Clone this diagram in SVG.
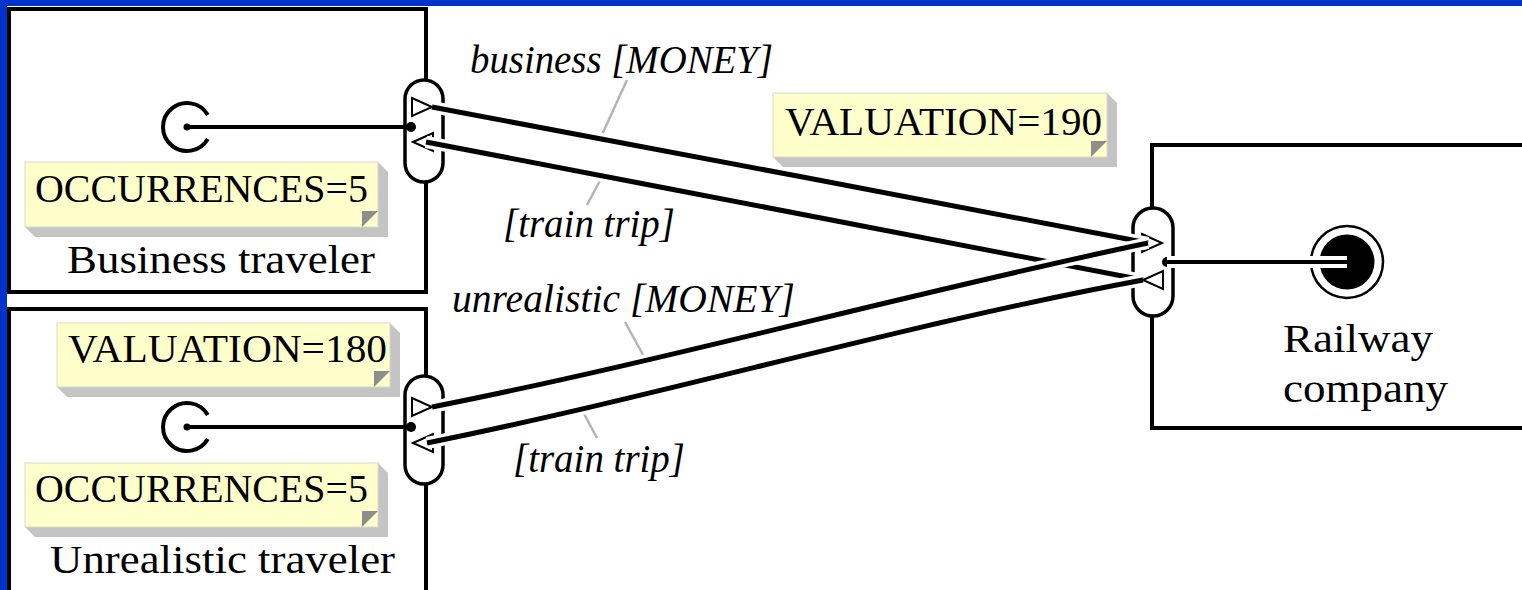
<svg xmlns="http://www.w3.org/2000/svg" width="1522" height="590" viewBox="0 0 1522 590">
  <style>
    .box { fill: #fff; stroke: #000; stroke-width: 4; }
    .cap { fill: #fff; stroke: #000; stroke-width: 3.5; }
    .tri { fill: #fff; stroke: #000; stroke-width: 2; stroke-linejoin: miter; }
    .dot { fill: #000; }
    .halo { fill: none; stroke: #fff; stroke-width: 12; stroke-linecap: butt; }
    .flow { fill: none; stroke: #000; stroke-width: 5; stroke-linecap: butt; }
    .wire { fill: none; stroke: #000; stroke-width: 4; }
    .lead { stroke: #b4b4b4; stroke-width: 2.5; fill: none; }
    .txt { font-family: "Liberation Serif", "Times New Roman", serif; fill: #000; }
    .lbl { font-size: 40px; }
    .it { font-size: 39px; font-style: italic; }
    .shadow { fill: #c4c4c4; }
    .note { fill: #ffffcc; stroke: #d9d9c4; stroke-width: 1; }
    .fold { fill: #8e8e8e; }
  </style>

  <!-- page frame -->
  <rect x="0" y="0" width="1522" height="590" fill="#0033cc"/>
  <rect x="7" y="6" width="1515" height="584" fill="#fff"/>

  <!-- Business traveler -->
  <g id="business-traveler">
    <rect class="box" x="9" y="9" width="417" height="283"/>
    <path class="wire" d="M 207.8 115 A 24 24 0 1 0 207.8 139"/>
    <circle class="dot" cx="187" cy="127" r="3.5"/>
    <g id="note-occ-business">
      <polygon class="shadow" points="378,162 388,172 388,237 35,237 25,227"/>
      <rect class="note" x="25" y="162" width="353" height="65"/>
      <polygon class="fold" points="362,227 378,211 362,211"/>
      <text class="txt lbl" x="35" y="202" textLength="333" lengthAdjust="spacingAndGlyphs">OCCURRENCES=5</text>
    </g>
    <text class="txt lbl" x="67" y="273" textLength="308" lengthAdjust="spacingAndGlyphs">Business traveler</text>
    <g id="port-business">
      <rect class="cap" x="405" y="80" width="38" height="102" rx="19" ry="19"/>
      <polygon class="tri" points="412,98 432,107 412,116"/>
      <polygon class="tri" points="413,142 433,133 433,151"/>
      <circle class="dot" cx="411" cy="127" r="5"/>
    </g>
  </g>

  <!-- Unrealistic traveler -->
  <g id="unrealistic-traveler">
    <rect class="box" x="9" y="309" width="417" height="300"/>
    <g id="note-val-unrealistic">
      <polygon class="shadow" points="390,323 400,333 400,397 67,397 57,387"/>
      <rect class="note" x="57" y="323" width="333" height="64"/>
      <polygon class="fold" points="374,387 390,371 374,371"/>
      <text class="txt lbl" x="68" y="362" textLength="319" lengthAdjust="spacingAndGlyphs">VALUATION=180</text>
    </g>
    <path class="wire" d="M 207.8 415 A 24 24 0 1 0 207.8 439"/>
    <circle class="dot" cx="187" cy="427" r="3.5"/>
    <g id="note-occ-unrealistic">
      <polygon class="shadow" points="378,463 388,473 388,537 35,537 25,527"/>
      <rect class="note" x="25" y="463" width="353" height="64"/>
      <polygon class="fold" points="362,527 378,511 362,511"/>
      <text class="txt lbl" x="35" y="502" textLength="333" lengthAdjust="spacingAndGlyphs">OCCURRENCES=5</text>
    </g>
    <text class="txt lbl" x="50" y="573" textLength="345" lengthAdjust="spacingAndGlyphs">Unrealistic traveler</text>
    <g id="port-unrealistic">
      <rect class="cap" x="405" y="376" width="38" height="108" rx="19" ry="19"/>
      <polygon class="tri" points="412,398 432,407 412,416"/>
      <polygon class="tri" points="413,443 433,434 433,452"/>
      <circle class="dot" cx="411" cy="427" r="5"/>
    </g>
  </g>

  <!-- Railway company -->
  <g id="railway-company">
    <rect class="box" x="1152" y="145" width="400" height="283"/>
    <circle cx="1347" cy="262" r="36" fill="#fff" stroke="#000" stroke-width="2.5"/>
    <circle class="dot" cx="1347" cy="262" r="27.5"/>
    <text class="txt lbl" x="1283" y="352" textLength="150" lengthAdjust="spacingAndGlyphs">Railway</text>
    <text class="txt lbl" x="1283" y="402" textLength="165" lengthAdjust="spacingAndGlyphs">company</text>
    <g id="port-railway">
      <rect class="cap" x="1133" y="208" width="40" height="108" rx="20" ry="20"/>
      <polygon class="tri" points="1142,234 1162,243 1142,252"/>
      <polygon class="tri" points="1143,280 1163,271 1163,289"/>
      <circle class="dot" cx="1167" cy="262" r="5"/>
    </g>
  </g>

  <!-- market segment valuation -->
  <g id="note-val-market">
    <polygon class="shadow" points="1107,93 1117,103 1117,167 783,167 773,157"/>
    <rect class="note" x="773" y="93" width="334" height="64"/>
    <polygon class="fold" points="1091,157 1107,141 1091,141"/>
    <text class="txt lbl" x="785" y="135" textLength="317" lengthAdjust="spacingAndGlyphs">VALUATION=190</text>
  </g>

  <!-- value exchanges and dependency paths -->
  <g id="connectors">
    <!-- label leaders -->
    <line class="lead" x1="627" y1="80" x2="600" y2="139"/>
    <line class="lead" x1="603" y1="175" x2="587" y2="205"/>
    <line class="lead" x1="625" y1="322" x2="647" y2="362"/>
    <line class="lead" x1="597" y1="438" x2="582" y2="410"/>

    <!-- dependency paths -->
    <line class="wire" x1="187" y1="127" x2="411" y2="127"/>
    <line class="wire" x1="187" y1="427" x2="411" y2="427"/>
    <line class="halo" x1="1167" y1="262" x2="1347" y2="262" stroke-width="10"/>
    <line class="wire" x1="1167" y1="262" x2="1347" y2="262"/>

    <!-- business [MONEY] -->
    <path class="halo" d="M432,107 C670,150 910,199 1148,243"/>
    <path class="flow" d="M432,107 C670,150 910,199 1148,243"/>
    <!-- [train trip] to business -->
    <path class="halo" d="M1143,280 C905,234 665,188 426,142"/>
    <path class="flow" d="M1143,280 C905,234 665,188 426,142"/>
    <!-- unrealistic [MONEY] -->
    <path class="halo" d="M432,407 C669,360 905,294 1148,243"/>
    <path class="flow" d="M432,407 C669,360 905,294 1148,243"/>
    <!-- [train trip] to unrealistic -->
    <path class="halo" d="M1143,280 C905,324 665,395 427,443"/>
    <path class="flow" d="M1143,280 C905,324 665,395 427,443"/>

    <text class="txt it" x="470" y="73" textLength="303" lengthAdjust="spacingAndGlyphs">business [MONEY]</text>
    <text class="txt it" x="503" y="237" textLength="172" lengthAdjust="spacingAndGlyphs">[train trip]</text>
    <text class="txt it" x="452" y="312" textLength="343" lengthAdjust="spacingAndGlyphs">unrealistic [MONEY]</text>
    <text class="txt it" x="513" y="472" textLength="172" lengthAdjust="spacingAndGlyphs">[train trip]</text>
  </g>
</svg>
